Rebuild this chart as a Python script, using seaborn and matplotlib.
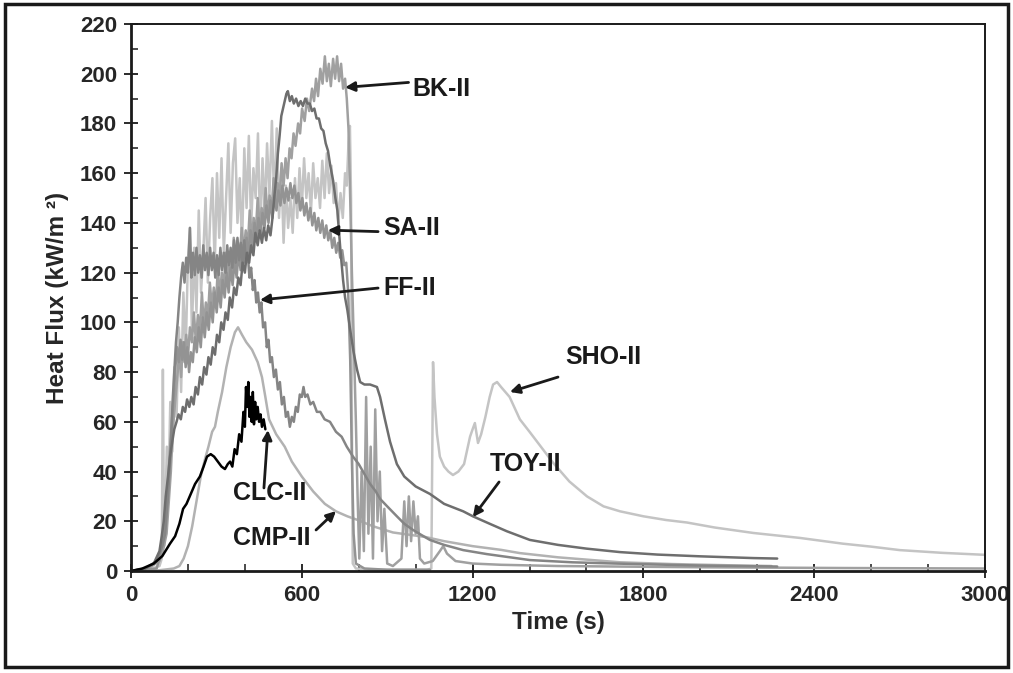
import matplotlib
matplotlib.use("Agg")
import matplotlib.pyplot as plt
import seaborn as sns
import pandas as pd
from matplotlib.ticker import MultipleLocator
from matplotlib.patches import Rectangle

# ---------------- data (time s, heat flux kW/m2) ----------------
SHO_II = [(0,0),(60,0.5),(100,2),(108,5),(112,81),(116,10),(120,20),(126,50),(132,35),(138,68),
          (145,48),(152,82),(160,62),(168,98),(176,72),(184,112),(192,88),(200,125),(207,138),
          (214,96),(222,130),(230,104),(238,145),(246,112),(254,128),(262,150),(270,116),(278,142),
          (286,158),(294,122),(302,160),(310,134),(318,166),(326,128),(334,150),(342,172),(350,136),
          (358,164),(366,174),(374,140),(382,158),(390,130),(398,170),(406,146),(414,175),(422,138),
          (430,162),(438,150),(446,176),(454,135),(462,166),(470,144),(478,172),(486,150),(495,181),
          (503,148),(512,178),(520,142),(528,162),(536,132),(544,155),(552,138),(560,150),(568,136),
          (576,158),(584,142),(592,162),(600,146),(608,166),(616,150),(624,160),(632,144),(640,164),
          (648,150),(656,158),(664,146),(672,165),(680,150),(688,168),(696,152),(704,163),(712,148),
          (720,156),(728,140),(736,152),(744,142),(752,160),(758,155),(764,172),(769,179),(773,150),
          (776,60),(779,3),(790,1),(850,0.5),(950,0.5),(1040,0.5),(1055,1),(1061,84),(1066,70),
          (1075,55),(1085,46),(1100,42),(1115,40),(1131,38.6),(1150,40),(1170,43),(1191,54),(1200,57),
          (1208,59.5),(1219,51.5),(1230,55),(1245,62),(1260,70),(1272,75),(1286,76),(1300,74),
          (1330,70),(1366,61),(1400,56),(1440,50),(1483,43.5),(1540,36),(1602,30),(1660,26),
          (1718,24),(1800,22),(1880,20.5),(1953,19.5),(2050,17.5),(2186,15.3),(2350,13.3),
          (2500,11),(2600,9.8),(2701,8.4),(2850,7.3),(3000,6.5)]

CMP_II = [(0,0),(100,0.3),(150,1),(170,2),(185,5),(200,10),(215,18),(230,28),(245,38),(260,45),
          (272,50),(285,56),(295,58),(305,64),(320,72),(335,82),(350,90),(365,96),(376,98),(390,95),
          (405,92),(425,89),(445,84),(460,78),(472,70),(485,61),(510,55),(540,50),(565,44),(600,38),
          (640,32),(681,27),(720,24),(760,22),(797,20.5),(850,18),(920,15.5),(1033,13.7),(1100,12),
          (1200,10),(1300,8.5),(1366,7.2),(1500,5.5),(1718,3.5),(1900,2.8),(2100,2.3),(2250,2)]

BK_II = [(0,0),(60,1),(100,4),(112,8),(125,15),(133,28),(140,40),(146,55),(152,64),(158,72),
         (164,80),(170,88),(176,78),(182,92),(188,84),(194,95),(200,86),(207,98),(214,92),(221,104),
         (228,92),(235,103),(242,96),(249,112),(256,98),(263,108),(270,102),(277,116),(284,106),
         (291,114),(298,106),(305,122),(312,110),(319,120),(326,114),(333,128),(340,116),(347,126),
         (354,118),(361,134),(368,122),(375,132),(382,126),(389,138),(396,128),(403,137),(410,130),
         (417,145),(424,133),(431,142),(438,135),(445,150),(452,138),(459,146),(466,140),(473,154),
         (480,143),(487,151),(494,145),(501,158),(508,148),(515,156),(522,150),(529,164),(536,155),
         (543,166),(550,158),(557,170),(564,166),(571,176),(578,171),(587,180),(594,176),(601,186),
         (610,181),(618,190),(626,185),(636,194),(643,189),(650,198),(657,191),(665,202),(673,196),
         (681,207),(688,197),(695,204),(702,195),(710,206),(717,198),(724,207),(731,197),(738,204),
         (745,194),(752,198),(758,190),(764,178),(770,150),(776,120),(782,95),(790,60),(796,30),
         (802,5),(810,40),(818,8),(826,70),(834,15),(842,50),(850,5),(858,65),(866,20),(874,40),
         (882,8),(890,25),(900,3),(920,2),(950,5),(960,28),(968,10),(976,30),(984,12),(992,28),
         (1000,15),(1008,22),(1015,5),(1030,3),(1060,4),(1085,8),(1097,10),(1110,7),(1140,4),
         (1200,3),(1300,2.5),(1500,2),(2000,1.5),(2500,1.2),(3000,1)]

SA_II = [(0,0),(90,1),(100,5),(110,12),(120,20),(128,32),(135,45),(142,58),(150,70),(156,82),
         (162,90),(168,84),(174,93),(180,85),(186,92),(192,82),(198,90),(204,80),(210,88),(217,84),
         (224,94),(231,88),(238,98),(245,90),(252,102),(259,94),(266,104),(273,97),(280,108),
         (287,100),(294,112),(301,104),(308,114),(315,106),(322,117),(329,110),(336,120),(343,112),
         (350,122),(357,115),(364,125),(371,118),(378,128),(385,121),(392,131),(399,124),(406,134),
         (413,127),(420,137),(427,130),(434,140),(441,133),(448,142),(455,135),(462,144),(469,138),
         (476,147),(483,140),(490,149),(497,142),(504,151),(511,145),(518,153),(525,147),(532,155),
         (539,148),(546,154),(553,149),(560,156),(567,150),(574,155),(581,148),(588,152),(595,145),
         (602,150),(609,143),(616,148),(623,141),(630,146),(637,139),(644,144),(651,137),(658,142),
         (665,136),(672,141),(679,134),(686,139),(693,133),(700,137),(707,130),(714,134),(721,128),
         (728,132),(735,126),(742,129),(749,123),(756,124),(763,112),(770,85),(776,45),(782,15),
         (790,3),(820,1),(900,0.5),(1050,0.5)]

FF_II = [(0,0),(50,1),(90,4),(110,10),(120,15),(130,30),(140,50),(146,68),(152,80),(158,92),
         (164,100),(170,110),(176,118),(182,124),(188,116),(194,126),(200,120),(207,138),(212,118),
         (218,128),(224,119),(230,130),(236,120),(242,127),(248,118),(254,131),(260,121),(266,128),
         (272,119),(278,130),(284,121),(290,128),(296,118),(302,127),(308,119),(314,130),(320,121),
         (326,128),(332,120),(338,131),(344,123),(350,130),(356,122),(362,133),(368,124),(374,134),
         (380,125),(386,132),(392,123),(398,133),(404,124),(410,128),(416,118),(422,122),(428,113),
         (434,117),(440,108),(446,112),(452,104),(458,108),(464,98),(471,100),(477,90),(483,93),
         (489,84),(495,86),(502,78),(509,81),(516,73),(523,76),(530,67),(537,70),(544,62),(551,64),
         (558,58),(565,62),(572,60),(579,66),(586,64),(593,71),(600,70),(606,74),(612,70),(620,71),
         (630,67),(640,68),(653,64),(665,64),(680,61),(699,60),(720,56),(740,54),(758,50),(780,46),
         (800,43),(815,40),(840,35),(860,32),(875,29),(900,26),(934,22),(960,19),(991,16.5),
         (1020,14.5),(1050,12.5),(1100,10.5),(1167,8.4),(1250,6.8),(1401,4.4),(1550,3.5),(1700,3),
         (2000,2.2),(2270,1.8)]

TOY_II = [(0,0),(50,1),(80,3),(100,8),(108,14),(115,20),(122,30),(130,38),(137,46),(145,52),
          (152,57),(160,60),(167,63),(175,61),(182,66),(190,64),(197,69),(205,66),(212,70),(220,67),
          (227,74),(235,71),(242,78),(250,75),(257,82),(265,79),(272,86),(280,83),(287,90),(295,87),
          (302,95),(310,92),(317,100),(325,97),(332,104),(340,101),(347,110),(355,106),(362,114),
          (370,111),(377,118),(385,115),(392,124),(400,120),(407,128),(415,124),(422,131),(430,127),
          (437,136),(445,131),(452,137),(460,132),(467,138),(475,133),(482,139),(490,135),(497,142),
          (503,150),(510,158),(516,168),(522,175),(528,183),(534,186),(540,189),(546,192),(551,193),
          (558,189),(565,191),(572,188),(580,190),(588,187),(596,189),(604,187),(612,190),(620,188),
          (628,188),(636,185),(644,186),(652,182),(660,182),(668,178),(676,177),(684,172),(692,169),
          (700,163),(710,157),(718,150),(725,145),(735,130),(745,117),(752,110),(760,105),(770,97),
          (782,88),(794,81),(805,76),(820,75),(840,75),(864,74),(875,70),(892,61),(910,52),(934,43),
          (960,38),(1000,34),(1050,31),(1100,27),(1167,24),(1201,22),(1260,19),(1320,16),
          (1401,12.5),(1500,10.5),(1600,9),(1718,7.6),(1850,6.6),(2000,5.9),(2186,5.2),(2270,5)]

CLC_II = [(0,0),(40,1),(80,3),(110,6),(137,11),(155,14),(170,19),(183,25),(195,27),(210,31),
          (225,35),(242,38),(255,42),(267,46),(280,47),(292,46),(305,44),(318,42),(330,41),(340,43),
          (348,44),(356,42),(364,49),(372,47),(380,55),(388,52),(395,64),(400,58),(404,74),(408,66),
          (412,76),(416,62),(420,70),(424,60),(428,72),(432,59),(436,68),(440,61),(445,66),(450,60),
          (455,63),(460,58),(466,61),(472,57)]

series_names = ["SHO-II", "CMP-II", "BK-II", "SA-II", "FF-II", "TOY-II", "CLC-II"]
series_data = [SHO_II, CMP_II, BK_II, SA_II, FF_II, TOY_II, CLC_II]
series_colors = ["#c4c4c4", "#b2b2b2", "#a0a0a0", "#939393", "#858585", "#6e6e6e", "#000000"]

x_ticks = [0, 600, 1200, 1800, 2400, 3000]
y_ticks = [0, 20, 40, 60, 80, 100, 120, 140, 160, 180, 200, 220]

labels = ["BK-II", "SA-II", "FF-II", "SHO-II", "TOY-II", "CLC-II", "CMP-II"]
label_xy = [(990, 194), (885, 138), (885, 114), (1525, 86), (1261, 43), (358, 31.5), (358, 13.3)]
arrow_tail = [(975, 196.5), (868, 136.5), (868, 113.8), (1500, 78), (1293, 35.8), (467, 33.4), (650, 16.5)]
arrow_tip = [(752, 194.5), (692, 137.1), (453, 109), (1331, 72), (1201, 21.7), (481, 56.7), (720, 24.1)]

# ---------------- build long table ----------------
rows = []
for name, data in zip(series_names, series_data):
    for i, (t, v) in enumerate(data):
        rows.append({"series": name, "idx": i, "t": t, "v": v})
df = pd.DataFrame(rows)

sns.set_theme(style="white")
plt.rcParams["font.family"] = ["Liberation Sans", "DejaVu Sans"]
plt.rcParams["font.weight"] = "bold"

fig = plt.figure(figsize=(10.13, 6.73), dpi=100)
ax = fig.add_axes([131/1013, 1-571/673, (985-131)/1013, (571-24)/673])

sns.lineplot(data=df, x="t", y="v", hue="series", hue_order=series_names,
             palette=dict(zip(series_names, series_colors)), units="series",
             estimator=None, sort=False, legend=False, linewidth=1.8, ax=ax)

ax.set_xlim(0, 3000)
ax.set_ylim(0, 220)
ax.set_xticks(x_ticks)
ax.set_yticks(y_ticks)
ax.xaxis.set_minor_locator(MultipleLocator(200))
ax.yaxis.set_minor_locator(MultipleLocator(10))
ax.tick_params(axis="both", which="major", direction="inout", length=10, width=1.3,
               color="k", labelsize=16, pad=5)
ax.tick_params(axis="both", which="minor", direction="in", length=5, width=1.1, color="k")
ax.tick_params(axis="x", which="both", bottom=True)
ax.tick_params(axis="y", which="both", left=True)
for lab in ax.get_xticklabels() + ax.get_yticklabels():
    lab.set_fontweight("bold")

for side in ["left", "bottom"]:
    ax.spines[side].set_linewidth(2)
    ax.spines[side].set_color("k")
for side in ["top", "right"]:
    ax.spines[side].set_linewidth(1.4)
    ax.spines[side].set_color("k")

ax.set_xlabel("Time (s)", fontsize=17.5, fontweight="bold", labelpad=4)
ax.set_ylabel("Heat Flux (kW/m ²)", fontsize=17.5, fontweight="bold", labelpad=8)

for lab, pos, tail, tip in zip(labels, label_xy, arrow_tail, arrow_tip):
    ax.text(pos[0], pos[1], lab, fontsize=18, fontweight="bold", ha="left", va="center", color="k")
    ax.annotate("", xy=tip, xytext=tail,
                arrowprops=dict(arrowstyle="-|>", color="k", lw=2, mutation_scale=14,
                                shrinkA=0, shrinkB=0))

fig.patches.append(Rectangle((5/1013, 6/673), 1003/1013, 663/673, transform=fig.transFigure,
                             fill=False, lw=2.5, ec="k"))

fig.savefig("out.png", dpi=100, facecolor="white")
